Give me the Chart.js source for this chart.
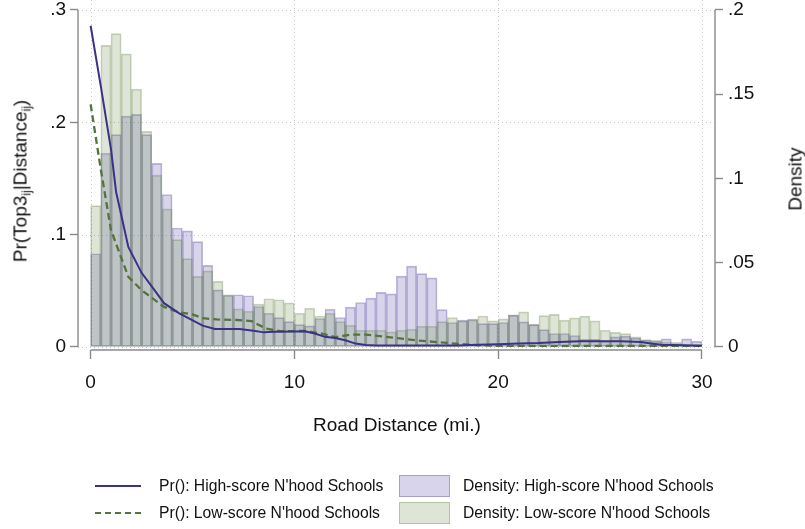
<!DOCTYPE html>
<html>
<head>
<meta charset="utf-8">
<script src="https://cdn.jsdelivr.net/npm/chart.js@4.4.1/dist/chart.umd.min.js"></script>
<style>
  html, body { margin: 0; padding: 0; background: #fff; }
  #wrap { position: relative; width: 805px; height: 529px; background: #fff; overflow: hidden;
          font-family: "Liberation Sans", Arial, Helvetica, sans-serif; color: #111; }
  #c { position: absolute; left: 0; top: 0; }
  .axtitle { position: absolute; font-size: 19px; white-space: nowrap; line-height: 1; }
  .rot { transform: translate(-50%, -50%) rotate(-90deg); }
  .ctr { transform: translate(-50%, -50%); }
  .axtitle sub { font-size: 12px; vertical-align: -4px; line-height: 0; }
  .leg { position: absolute; font-size: 15.7px; white-space: nowrap; line-height: 1; transform: translateY(-50%); }
  .swatch { position: absolute; box-sizing: border-box; width: 51px; height: 22px; transform: translateY(-50%); }
  svg.sample { position: absolute; overflow: visible; }
</style>
</head>
<body>
<div id="wrap">
  <canvas id="c" width="805" height="529"></canvas>
  <div class="axtitle rot" style="left:20px;top:181px;">Pr(Top3<sub>ij</sub>|Distance<sub>ij</sub>)</div>
  <div class="axtitle ctr" style="left:397px;top:424px;">Road Distance (mi.)</div>
  <div class="axtitle rot" style="left:795px;top:179px;">Density</div>

  <svg class="sample" width="46" height="4" style="left:95px;top:484px;">
    <line x1="0" y1="2" x2="46" y2="2" stroke="#3a3188" stroke-width="2"/>
  </svg>
  <div class="leg" style="left:159px;top:486px;">Pr(): High-score N'hood Schools</div>
  <div class="swatch" id="swHigh" style="left:399px;top:486px;"></div>
  <div class="leg" style="left:463px;top:486px;">Density: High-score N'hood Schools</div>

  <svg class="sample" width="46" height="4" style="left:95px;top:511px;">
    <line x1="0" y1="2" x2="46" y2="2" stroke="#55733a" stroke-width="2" stroke-dasharray="6,4"/>
  </svg>
  <div class="leg" style="left:159px;top:513px;">Pr(): Low-score N'hood Schools</div>
  <div class="swatch" id="swLow" style="left:399px;top:513px;"></div>
  <div class="leg" style="left:463px;top:513px;">Density: Low-score N'hood Schools</div>
</div>

<script>
// Histogram bins: 60 bins of 0.5 mi. starting at 0
const binStart = 0;
const binWidth = 0.5;

// Density of road distance, high-score neighbourhood schools (right axis)
const densityHigh = [
  0.0553, 0.115, 0.126, 0.137, 0.138, 0.126, 0.109, 0.0905, 0.0706, 0.0689,
  0.0625, 0.0484, 0.0339, 0.031, 0.031, 0.0304, 0.024, 0.020, 0.0174, 0.015,
  0.0133, 0.0125, 0.0169, 0.0224, 0.0175, 0.0236, 0.0264, 0.029, 0.0324, 0.0315,
  0.042, 0.048, 0.0435, 0.041, 0.0222, 0.0145, 0.0159, 0.0165, 0.0139, 0.0139,
  0.0145, 0.0189, 0.0149, 0.0133, 0.0103, 0.008, 0.008, 0.0068, 0.0045, 0.0045,
  0.0036, 0.006, 0.0064, 0.0053, 0.004, 0.0033, 0.0048, 0.0019, 0.0048, 0.0033
];

// Density of road distance, low-score neighbourhood schools (right axis)
const densityLow = [
  0.0839, 0.179, 0.186, 0.174, 0.153, 0.128, 0.102, 0.082, 0.0637, 0.0524,
  0.0419, 0.0452, 0.0389, 0.0305, 0.0226, 0.0212, 0.0254, 0.0286, 0.028, 0.0262,
  0.020, 0.023, 0.0184, 0.020, 0.015, 0.0129, 0.0099, 0.0099, 0.0099, 0.009,
  0.0099, 0.0105, 0.0123, 0.0123, 0.015, 0.0175, 0.0155, 0.016, 0.0184, 0.0155,
  0.0167, 0.019, 0.0208, 0.0135, 0.0186, 0.0193, 0.0159, 0.0173, 0.0183, 0.0155,
  0.0099, 0.0087, 0.0079, 0.006, 0.0044, 0.004, 0.0029, 0.0027, 0.0013, 0.0013
];

// Pr(Top3 | Distance), high-score schools (left axis)
const prHighX = [0, 0.5, 1.0, 1.25, 1.85, 2.5, 3.0, 3.6, 4.35, 5.5, 6.1, 7.3, 8.0, 8.5, 9.0, 10.0, 10.5,
                 11.0, 11.5, 12.0, 12.5, 13.0, 13.5, 14, 16, 18, 19, 20, 21, 22, 23, 24, 25, 26, 27, 27.5, 28, 29, 30];
const prHighY = [0.286, 0.232, 0.176, 0.138, 0.089, 0.066, 0.054, 0.039, 0.030, 0.019, 0.016, 0.016, 0.0145, 0.013, 0.0135, 0.0138, 0.014,
                 0.012, 0.009, 0.008, 0.006, 0.003, 0.0018, 0.0012, 0.0012, 0.0012, 0.002, 0.0025, 0.003, 0.0035, 0.0045, 0.0052, 0.0052, 0.005, 0.0045, 0.003, 0.002, 0.0015, 0.001];

// Pr(Top3 | Distance), low-score schools (left axis)
const prLowX = [0, 0.5, 1.0, 1.85, 2.5, 3.6, 4.3, 5.0, 5.5, 6.2, 7.2, 7.9, 8.6, 9.3, 10.5,
                11.3, 12.0, 12.8, 13.5, 14.5, 15.9, 17.5, 19, 20, 30];
const prLowY = [0.216, 0.158, 0.104, 0.0625, 0.0506, 0.0357, 0.031, 0.029, 0.0256, 0.0245, 0.024, 0.023, 0.0164, 0.014, 0.0143,
                0.012, 0.0088, 0.011, 0.011, 0.009, 0.006, 0.0036, 0.0015, 0.001, 0.001];

// Axis ticks
const xTicks = [0, 10, 20, 30];
const yLeftTicks = [0, 0.1, 0.2, 0.3];
const yRightTicks = [0, 0.05, 0.1, 0.15, 0.2];

// Colours
const highFill = 'rgba(58, 45, 150, 0.2)';
const highEdge = 'rgba(58, 45, 150, 0.32)';
const lowFill = 'rgba(90, 125, 55, 0.2)';
const lowEdge = 'rgba(90, 125, 55, 0.32)';
const highLine = '#3a3188';
const lowLine = '#55733a';
const axisGray = '#8a8a8a';

document.getElementById('swHigh').style.cssText += `background:${highFill};border:1px solid ${highEdge};`;
document.getElementById('swLow').style.cssText += `background:${lowFill};border:1px solid ${lowEdge};`;

// Stata-style number labels: ".3", ".15", "0"
const stataNum = v => {
  if (Math.abs(v) < 1e-12) return '0';
  let s = String(+v.toFixed(4));
  return s.replace(/^0\./, '.');
};

const binCenters = densityHigh.map((_, i) => binStart + binWidth * (i + 0.5));
const pairs = (xs, ys) => xs.map((x, i) => ({ x: x, y: ys[i] }));

// Dotted guide lines and the axis lines, placed through the chart's scales
const stataFrame = {
  id: 'stataFrame',
  beforeDatasetsDraw(chart) {
    const { ctx, chartArea: a, scales } = chart;
    const sx = scales.x, sy = scales.y;
    ctx.save();
    ctx.strokeStyle = '#c4c4c4';
    ctx.lineWidth = 1;
    ctx.setLineDash([1, 3]);
    yLeftTicks.forEach(v => {
      const py = Math.round(sy.getPixelForValue(v)) + 0.5;
      ctx.beginPath(); ctx.moveTo(a.left, py); ctx.lineTo(a.right, py); ctx.stroke();
    });
    xTicks.forEach(v => {
      const px = Math.round(sx.getPixelForValue(v)) + 0.5;
      ctx.beginPath(); ctx.moveTo(px, a.top); ctx.lineTo(px, sy.getPixelForValue(0)); ctx.stroke();
    });
    ctx.restore();
  },
  afterDraw(chart) {
    const { ctx, chartArea: a, scales } = chart;
    const sx = scales.x, sy = scales.y, sy2 = scales.y2;
    ctx.save();
    ctx.strokeStyle = axisGray;
    ctx.lineWidth = 1.4;
    ctx.setLineDash([]);
    ctx.beginPath();
    ctx.moveTo(a.left, sy.getPixelForValue(0)); ctx.lineTo(a.left, sy.getPixelForValue(0.3));
    ctx.moveTo(a.right, sy2.getPixelForValue(0)); ctx.lineTo(a.right, sy2.getPixelForValue(0.2));
    ctx.moveTo(sx.getPixelForValue(0), a.bottom); ctx.lineTo(sx.getPixelForValue(30), a.bottom);
    ctx.stroke();
    ctx.restore();
  }
};

const tickFont = { family: '"Liberation Sans", Arial, Helvetica, sans-serif', size: 19 };

new Chart(document.getElementById('c'), {
  type: 'bar',
  data: {
    datasets: [
      {
        type: 'line', label: 'Pr(): High-score N\'hood Schools',
        data: pairs(prHighX, prHighY), yAxisID: 'y', order: 0,
        borderColor: highLine, borderWidth: 2, pointRadius: 0, tension: 0, fill: false
      },
      {
        type: 'line', label: 'Pr(): Low-score N\'hood Schools',
        data: pairs(prLowX, prLowY), yAxisID: 'y', order: 0,
        borderColor: lowLine, borderWidth: 2.3, borderDash: [7, 4], pointRadius: 0, tension: 0, fill: false
      },
      {
        label: 'Density: Low-score N\'hood Schools',
        data: pairs(binCenters, densityLow), yAxisID: 'y2', order: 1,
        backgroundColor: lowFill, borderColor: lowEdge, borderWidth: 1, borderSkipped: false,
        barPercentage: 1, categoryPercentage: 1, grouped: false
      },
      {
        label: 'Density: High-score N\'hood Schools',
        data: pairs(binCenters, densityHigh), yAxisID: 'y2', order: 2,
        backgroundColor: highFill, borderColor: highEdge, borderWidth: 1, borderSkipped: false,
        barPercentage: 1, categoryPercentage: 1, grouped: false
      }
    ]
  },
  options: {
    responsive: false,
    animation: false,
    events: [],
    devicePixelRatio: 1,
    layout: { padding: { left: 0, right: 0, top: 0, bottom: 0 } },
    plugins: { legend: { display: false }, tooltip: { enabled: false } },
    scales: {
      x: {
        type: 'linear', position: 'bottom', offset: false,
        min: -0.62, max: 30.64,
        afterBuildTicks: s => { s.ticks = xTicks.map(v => ({ value: v })); },
        afterFit: s => { s.height = 179; s.paddingLeft = 0; s.paddingRight = 0; },
        grid: { display: true, offset: false, drawOnChartArea: false, drawTicks: true,
                tickLength: 9, tickColor: axisGray, tickWidth: 1.4 },
        border: { display: false },
        ticks: { font: tickFont, color: '#111', padding: 12, maxRotation: 0, autoSkip: false,
                 callback: v => stataNum(v) }
      },
      y: {
        type: 'linear', position: 'left',
        min: -0.0027, max: 0.3089,
        afterBuildTicks: s => { s.ticks = yLeftTicks.map(v => ({ value: v })); },
        afterFit: s => { s.width = 78; s.paddingTop = 0; s.paddingBottom = 0; },
        grid: { display: true, drawOnChartArea: false, drawTicks: true,
                tickLength: 8, tickColor: axisGray, tickWidth: 1.4 },
        border: { display: false },
        ticks: { font: tickFont, color: '#111', padding: 4, autoSkip: false,
                 callback: v => stataNum(v) }
      },
      y2: {
        type: 'linear', position: 'right',
        min: -0.0018, max: 0.20593,
        afterBuildTicks: s => { s.ticks = yRightTicks.map(v => ({ value: v })); },
        afterFit: s => { s.width = 90; s.paddingTop = 0; s.paddingBottom = 0; },
        grid: { display: true, drawOnChartArea: false, drawTicks: true,
                tickLength: 8, tickColor: axisGray, tickWidth: 1.4 },
        border: { display: false },
        ticks: { font: tickFont, color: '#111', padding: 5, autoSkip: false,
                 callback: v => stataNum(v) }
      }
    }
  },
  plugins: [stataFrame]
});
</script>
</body>
</html>
